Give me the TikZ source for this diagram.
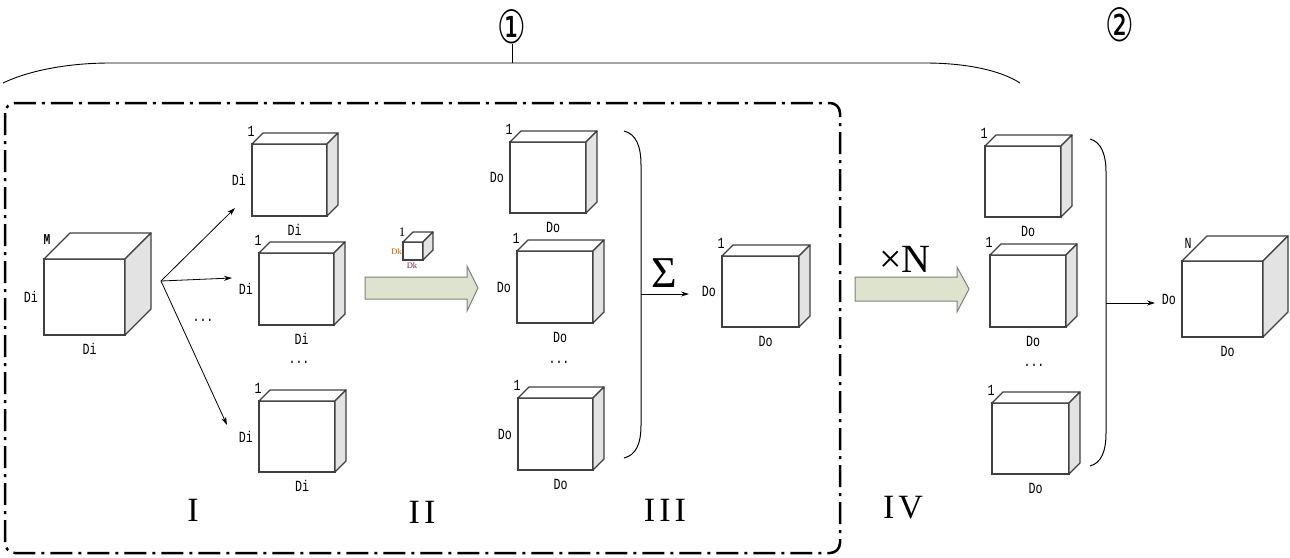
\documentclass[tikz,border=0pt]{standalone}
\usepackage{fontspec}
\setmainfont{Liberation Serif}
\newfontfamily\lblfont[FakeStretch=0.75]{Liberation Mono}
\newfontfamily\symfont{DejaVu Sans}
\newfontfamily\romanfont[LetterSpace=12]{Liberation Serif}
\usetikzlibrary{calc,arrows.meta}
\definecolor{sidegray}{HTML}{E3E3E3}
\definecolor{arrowfill}{HTML}{DEE3CD}
\definecolor{edgecol}{HTML}{404040}
\definecolor{dkone}{HTML}{B5651D}
\definecolor{dktwo}{HTML}{8B1A4A}
% name, x, y, width, height, depth
\newcommand{\mkcube}[6]{%
  \node[frontface, minimum width=#4pt, minimum height=#5pt, anchor=north west] (#1) at (#2,#3) {};
  \draw[cubeface, fill=white] (#1.north west) -- ++(#6,-#6) -- ++(#4,0) -- (#1.north east) -- cycle;
  \draw[cubeface, fill=sidegray] (#1.north east) -- ++(#6,-#6) -- ++(0,#5) -- (#1.south east) -- cycle;
}
\newcommand{\toplbl}[2]{\node[lbl] (#1-t) at ($(#1.north west)+(-1,-13)$) {#2};}
\newcommand{\leftlbl}[2]{\node[lbl, anchor=east] (#1-l) at ($(#1.west)+(-6,0)$) {#2};}
\newcommand{\botlbl}[2]{\node[lbl] (#1-b) at ($(#1.south)+(5,14)$) {#2};}
\begin{document}
\begin{tikzpicture}[x=1pt,y=-1pt,
  frontface/.style={draw=edgecol, line width=1.3pt, fill=white, inner sep=0pt, outer sep=0pt},
  cubeface/.style={draw=edgecol, line width=1.3pt, line join=round},
  lbl/.style={font=\lblfont\fontsize{15.5}{15.5}\selectfont, inner sep=0pt},
  roman/.style={font=\romanfont\fontsize{34}{34}\selectfont, inner sep=0pt},
  conn/.style={-{Stealth[length=8pt,width=5pt]}, line width=0.8pt},
  blockarrow/.style={draw=gray, line width=1pt, fill=arrowfill},
  bracket/.style={line width=1pt},
  dashbox/.style={line width=2.5pt, rounded corners=10pt, dash pattern=on 22pt off 6pt on 3pt off 6pt}
]
\useasboundingbox (0,0) rectangle (1290,557);

% top brace and circled numbers
\draw[line width=0.9pt] (3,83) .. controls (30,70) and (70,63) .. (110,63) -- (925,63) .. controls (965,63) and (1000,70) .. (1020,83);
\draw[line width=0.9pt] (512,63) -- (512,44);
\node[inner sep=0pt] (c1) at (512,27) {\scalebox{0.8}[1.15]{\symfont\fontsize{40}{40}\selectfont ①}};
\node[inner sep=0pt] (c2) at (1120,25) {\scalebox{0.8}[1.15]{\symfont\fontsize{40}{40}\selectfont ②}};

% dash-dot frame
\draw[dashbox] (5,103) rectangle (840,553);

% big input cube
\mkcube{M}{44}{259}{81}{76}{26}
\node[lbl, font=\lblfont\bfseries\fontsize{15}{15}\selectfont] (M-t) at ($(M.north west)+(3,-19)$) {M};
\leftlbl{M}{Di}
\botlbl{M}{Di}

% column I
\mkcube{IA}{252}{144}{75}{72}{11}
\toplbl{IA}{1}\leftlbl{IA}{Di}\botlbl{IA}{Di}
\mkcube{IB}{259}{253}{75}{72}{11}
\toplbl{IB}{1}\leftlbl{IB}{Di}\botlbl{IB}{Di}
\mkcube{IC}{259}{401}{76}{71}{11}
\toplbl{IC}{1}\leftlbl{IC}{Di}\botlbl{IC}{Di}
\node[lbl] (dotsA) at (203,320) {...};
\node[lbl] (dotsB) at (299,362) {...};

% fan of arrows
\coordinate (fan) at (161,281);
\coordinate (eA) at (235,208);
\coordinate (eB) at (232,278);
\coordinate (eC) at (227,425);
\draw[conn] (fan) -- (eA);
\draw[conn] (fan) -- (eB);
\draw[conn] (fan) -- (eC);

% kernel cube
\mkcube{K}{403}{242}{20}{18}{10}
\node[inner sep=0pt, font=\fontsize{13}{13}\selectfont] (K-t) at ($(K.north west)+(-1,-10)$) {1};
\node[inner sep=0pt, anchor=east, text=dkone, font=\fontsize{8.5}{8.5}\selectfont] (K-l) at ($(K.west)+(-1,1)$) {Dk};
\node[inner sep=0pt, text=dktwo, font=\fontsize{8.5}{8.5}\selectfont] (K-b) at ($(K.south)+(-1,6)$) {Dk};

% block arrow II
\draw[blockarrow] (365,277) -- (467,277) -- (467,266) -- (478,288) -- (467,311) -- (467,299) -- (365,299) -- cycle;

% column III
\mkcube{IIIA}{510}{142}{76}{71}{11}
\toplbl{IIIA}{1}\leftlbl{IIIA}{Do}\botlbl{IIIA}{Do}
\mkcube{IIIB}{517}{251}{76}{72}{11}
\toplbl{IIIB}{1}\leftlbl{IIIB}{Do}\botlbl{IIIB}{Do}
\mkcube{IIIC}{518}{398}{75}{72}{11}
\toplbl{IIIC}{1}\leftlbl{IIIC}{Do}\botlbl{IIIC}{Do}
\node[lbl] (dotsC) at (559,362) {...};

% bracket and sum
\draw[bracket] (624,131) .. controls (636,134) and (641,146) .. (641,165) -- (641,425) .. controls (641,444) and (636,455) .. (624,458);
\coordinate (brA) at (641,294);
\node[inner sep=0pt, font=\fontsize{44}{44}\selectfont] (sigma) at (664,273) {Σ};
\mkcube{S}{722}{256}{77}{71}{11}
\toplbl{S}{1}\leftlbl{S}{Do}\botlbl{S}{Do}
\coordinate (sIn) at (689,294);
\draw[conn] (brA) -- (sIn);

% times N arrow
\node[inner sep=0pt, font=\fontsize{40}{40}\selectfont] (timesN) at (905,259) {×N};
\draw[blockarrow] (855,277) -- (957,277) -- (957,267) -- (969,289) -- (957,312) -- (957,301) -- (855,301) -- cycle;

% column IV
\mkcube{IVA}{985}{146}{76}{71}{11}
\toplbl{IVA}{1}\botlbl{IVA}{Do}
\mkcube{IVB}{990}{255}{76}{72}{11}
\toplbl{IVB}{1}\botlbl{IVB}{Do}
\mkcube{IVC}{992}{403}{77}{71}{11}
\toplbl{IVC}{1}\botlbl{IVC}{Do}
\node[lbl] (dotsD) at (1034,365) {...};

% second bracket and output cube
\draw[bracket] (1090,139) .. controls (1101,142) and (1106,154) .. (1106,172) -- (1106,433) .. controls (1106,452) and (1101,463) .. (1090,466);
\coordinate (brB) at (1106,303);
\mkcube{N}{1182}{261}{81}{76}{25}
\node[lbl] (N-t) at ($(N.north west)+(6,-18)$) {N};
\leftlbl{N}{Do}
\botlbl{N}{Do}
\coordinate (nIn) at (1155,303);
\draw[conn] (brB) -- (nIn);

% stage numerals
\node[roman] (rI) at (193,510) {I};
\node[roman] (rII) at (422,512) {II};
\node[roman] (rIII) at (665,510) {III};
\node[roman] (rIV) at (903,508) {IV};
\end{tikzpicture}
\end{document}
